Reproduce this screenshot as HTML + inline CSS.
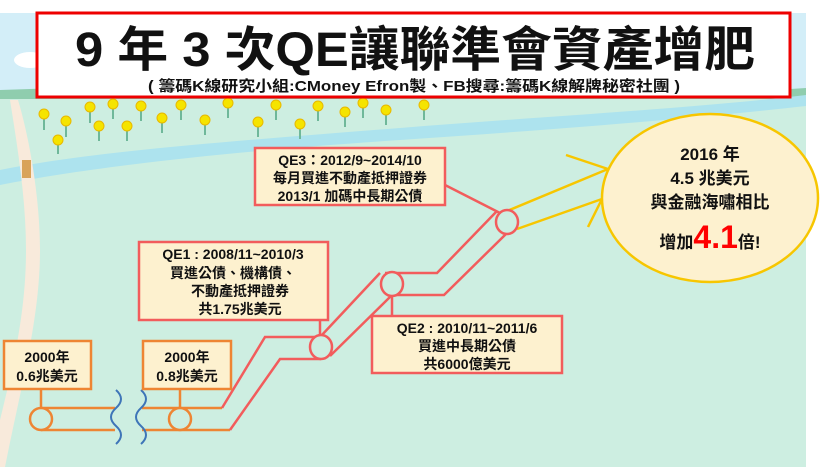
<!DOCTYPE html>
<html><head><meta charset="utf-8"><style>
body{margin:0;background:#fff;}
svg text{font-family:"Liberation Sans","Noto Sans CJK TC",sans-serif;font-weight:bold;fill:#111;}
</style></head><body>
<svg width="820" height="467" viewBox="0 0 820 467" xmlns="http://www.w3.org/2000/svg">
<rect x="0" y="13" width="806" height="454" fill="#cdeee1"/>
<rect x="0" y="13" width="806" height="80" fill="#d3eef8"/>
<path d="M0 90 Q200 82 400 92 T806 88 L806 100 L0 100Z" fill="#8fcdae"/>
<rect x="0" y="99" width="806" height="368" fill="#cdeee1"/>
<ellipse cx="30" cy="60" rx="16" ry="8" fill="#fff"/>
<path d="M0 170 C100 150 250 140 400 128 S700 108 806 95 L806 106 C700 118 550 130 400 140 S100 165 0 185Z" fill="#ade3ee"/>
<path d="M18 100 C30 140 40 200 40 250 C40 320 20 390 5 467 L-10 467 L-10 460 C10 380 26 320 26 250 C26 200 18 150 10 100Z" fill="#f8eadb"/>
<rect x="22" y="160" width="9" height="18" fill="#d9a35a"/>
<g stroke="#6fb89a" stroke-width="2">
<line x1="44" y1="119" x2="44" y2="130"/><line x1="66" y1="126" x2="66" y2="137"/><line x1="58" y1="145" x2="58" y2="154"/><line x1="90" y1="112" x2="90" y2="123"/><line x1="99" y1="131" x2="99" y2="141"/><line x1="113" y1="109" x2="113" y2="119"/><line x1="127" y1="131" x2="127" y2="141"/><line x1="141" y1="111" x2="141" y2="121"/><line x1="162" y1="123" x2="162" y2="133"/><line x1="181" y1="110" x2="181" y2="120"/><line x1="205" y1="125" x2="205" y2="135"/><line x1="228" y1="108" x2="228" y2="118"/><line x1="258" y1="127" x2="258" y2="137"/><line x1="276" y1="110" x2="276" y2="120"/><line x1="300" y1="129" x2="300" y2="139"/><line x1="318" y1="111" x2="318" y2="121"/><line x1="345" y1="117" x2="345" y2="127"/><line x1="363" y1="108" x2="363" y2="118"/><line x1="386" y1="115" x2="386" y2="125"/><line x1="424" y1="110" x2="424" y2="120"/>
</g>
<g fill="#f5e400" stroke="#e8b800" stroke-width="1">
<circle cx="44" cy="114" r="5"/><circle cx="66" cy="121" r="5"/><circle cx="58" cy="140" r="5"/><circle cx="90" cy="107" r="5"/><circle cx="99" cy="126" r="5"/><circle cx="113" cy="104" r="5"/><circle cx="127" cy="126" r="5"/><circle cx="141" cy="106" r="5"/><circle cx="162" cy="118" r="5"/><circle cx="181" cy="105" r="5"/><circle cx="205" cy="120" r="5"/><circle cx="228" cy="103" r="5"/><circle cx="258" cy="122" r="5"/><circle cx="276" cy="105" r="5"/><circle cx="300" cy="124" r="5"/><circle cx="318" cy="106" r="5"/><circle cx="345" cy="112" r="5"/><circle cx="363" cy="103" r="5"/><circle cx="386" cy="110" r="5"/><circle cx="424" cy="105" r="5"/>
</g>
<rect x="37" y="13" width="753" height="84" fill="#fff" stroke="#e00" stroke-width="3"/>
<text x="75" y="66" font-size="48" textLength="680" lengthAdjust="spacingAndGlyphs">9 年 3 次QE讓聯準會資產增肥</text>
<text x="148" y="91" font-size="15" textLength="532" lengthAdjust="spacingAndGlyphs">( 籌碼K線研究小組:CMoney Efron製、FB搜尋:籌碼K線解牌秘密社團 )</text>
<g stroke="#f7c600" stroke-width="2.5" fill="none">
<line x1="507" y1="211" x2="608" y2="169"/><line x1="566" y1="155" x2="608" y2="169"/>
<line x1="517" y1="229" x2="602" y2="199"/><line x1="588" y1="227" x2="602" y2="199"/>
</g>
<ellipse cx="710" cy="198" rx="108" ry="84" fill="#fdf1cf" stroke="#f7c600" stroke-width="2.5"/>
<text x="710" y="160" font-size="17" text-anchor="middle">2016 年</text>
<text x="710" y="184" font-size="17" text-anchor="middle">4.5 兆美元</text>
<text x="710" y="208" font-size="17" text-anchor="middle">與金融海嘯相比</text>
<text x="710" y="248" font-size="17" text-anchor="middle">增加<tspan font-size="32" style="fill:#f00">4.1</tspan>倍!</text>
<g stroke="#ee8533" stroke-width="2.5" fill="none">
<line x1="41" y1="408" x2="115" y2="408"/><line x1="41" y1="430" x2="115" y2="430"/>
<line x1="142" y1="408" x2="222" y2="408"/><line x1="142" y1="430" x2="230" y2="430"/>
<ellipse cx="41" cy="419" rx="11" ry="11" fill="#cdeee1"/><ellipse cx="180" cy="419" rx="11" ry="11" fill="#cdeee1"/>
<line x1="41" y1="389" x2="41" y2="408"/><line x1="180" y1="389" x2="180" y2="408"/>
</g>
<g stroke="#3e75b8" stroke-width="2" fill="none">
<path d="M116 390 q10 9 0 18 t0 18 t0 18"/><path d="M141 390 q10 9 0 18 t0 18 t0 18"/>
</g>
<g stroke="#f25c5c" stroke-width="2.5" fill="none">
<polyline points="222,408 265,337 321,337"/><polyline points="230,430 280,359 321,359"/>
<line x1="321" y1="336" x2="380" y2="273"/><line x1="330" y1="356" x2="392" y2="295"/>
<polyline points="385,273 437,273 497,211"/><polyline points="392,295 444,295 506,234"/>
<ellipse cx="321" cy="347" rx="11" ry="12" fill="#cdeee1"/>
<ellipse cx="392" cy="284" rx="11" ry="12" fill="#cdeee1"/>
<ellipse cx="507" cy="222" rx="11" ry="12" fill="#cdeee1"/>
<line x1="320" y1="320" x2="320" y2="336"/><line x1="392" y1="296" x2="392" y2="316"/>
<line x1="445" y1="185" x2="500" y2="213"/>
</g>
<g fill="#fdf1cf" stroke-width="2.5">
<rect x="4" y="341" width="87" height="48" stroke="#ee8533"/>
<rect x="143" y="341" width="88" height="48" stroke="#ee8533"/>
<rect x="139" y="242" width="189" height="78" stroke="#f25c5c"/>
<rect x="372" y="316" width="190" height="57" stroke="#f25c5c"/>
<rect x="255" y="148" width="190" height="57" stroke="#f25c5c"/>
</g>
<g font-size="14" text-anchor="middle">
<text x="47" y="362">2000年</text><text x="47" y="381">0.6兆美元</text>
<text x="187" y="362">2000年</text><text x="187" y="381">0.8兆美元</text>
<text x="233" y="259">QE1 : 2008/11~2010/3</text><text x="233" y="278">買進公債、機構債、</text><text x="240" y="296">不動產抵押證券</text><text x="240" y="314">共1.75兆美元</text>
<text x="467" y="333">QE2 : 2010/11~2011/6</text><text x="467" y="351">買進中長期公債</text><text x="467" y="369">共6000億美元</text>
<text x="350" y="165">QE3：2012/9~2014/10</text><text x="350" y="183">每月買進不動產抵押證券</text><text x="350" y="201">2013/1 加碼中長期公債</text>
</g>
</svg>
</body></html>
